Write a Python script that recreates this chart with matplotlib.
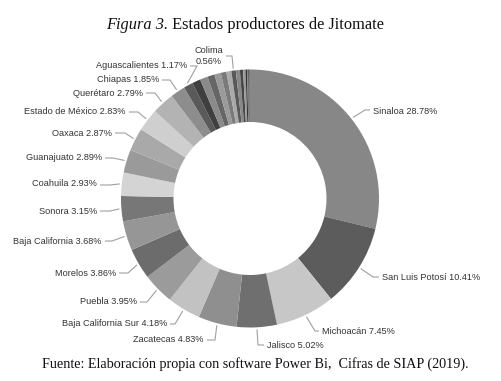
import matplotlib
matplotlib.use('Agg')
import matplotlib.pyplot as plt
import numpy as np

# ---------------- data ----------------
states = ['Sinaloa', 'San Luis Potosí', 'Michoacán', 'Jalisco', 'Zacatecas',
          'Baja California Sur', 'Puebla', 'Morelos', 'Baja California', 'Sonora',
          'Coahuila', 'Guanajuato', 'Oaxaca', 'Estado de México', 'Querétaro',
          'Chiapas', 'Aguascalientes', 'Nayarit', 'Tamaulipas', 'Chihuahua',
          'Hidalgo', 'Veracruz', 'Guerrero', 'Colima', 'Durango', 'Nuevo León',
          'Tlaxcala', 'Yucatán', 'Quintana Roo', 'Campeche', 'Tabasco',
          'Ciudad de México']
shares = [28.78, 10.41, 7.45, 5.02, 4.83,
          4.18, 3.95, 3.86, 3.68, 3.15,
          2.93, 2.89, 2.87, 2.83, 2.79,
          1.85, 1.17, 1.05, 0.97, 0.90,
          0.80, 0.70, 0.62, 0.56, 0.50, 0.40,
          0.30, 0.20, 0.15, 0.10, 0.06,
          0.05]
colors = ['#878787', '#5c5c5c', '#c7c7c7', '#6f6f6f', '#8f8f8f',
          '#c2c2c2', '#9b9b9b', '#6c6c6c', '#969696', '#777777',
          '#d4d4d4', '#9a9a9a', '#a9a9a9', '#cfcfcf', '#b3b3b3',
          '#8d8d8d', '#5a5a5a', '#3f3f3f', '#8a8a8a', '#666666',
          '#9a9a9a', '#7a7a7a', '#aaaaaa', '#585858', '#888888', '#474747',
          '#999999', '#333333', '#777777', '#2a2a2a', '#666666',
          '#444444']

title_italic = 'Figura 3.'
title_rest = ' Estados productores de Jitomate'
footer = 'Fuente: Elaboración propia con software Power Bi,  Cifras de SIAP (2019).'

# ---------------- layout (reference pixel coords, y down) ----------------
# name: (text_x, text_y, ha, elbow_x, elbow_y)
label_layout = {
    'Sinaloa':             (373, 111, 'left', 365, 110),
    'San Luis Potosí':     (382, 277, 'left', 373, 277),
    'Michoacán':           (322, 331, 'left', 315, 331),
    'Jalisco':             (267, 345, 'left', 258, 345),
    'Zacatecas':           (204, 340, 'right', 215, 340),
    'Baja California Sur': (167, 324, 'right', 175, 324),
    'Puebla':              (137, 302, 'right', 147, 302),
    'Morelos':             (116, 273, 'right', 128, 273),
    'Baja California':     (102, 242, 'right', 112, 241),
    'Sonora':              (97, 211, 'right', 110, 211),
    'Coahuila':            (97, 184, 'right', 110, 185),
    'Guanajuato':          (102, 158, 'right', 113, 158),
    'Oaxaca':              (112, 133, 'right', 125, 133),
    'Estado de México':    (126, 112, 'right', 138, 112),
    'Querétaro':           (143, 93, 'right', 155, 93),
    'Chiapas':             (159, 80, 'right', 170, 80),
    'Aguascalientes':      (187, 66, 'right', 197, 66),
    'Colima':              (223, 56, 'right', 232, 56),
}

W, H = 501, 381
fig = plt.figure(figsize=(W / 100, H / 100), dpi=100)
ax = fig.add_axes([0, 0, 1, 1])

def Y(y):
    return H - y

cx, cy = 250.0, Y(198.5)
R = 129.0
ring = 52.5

wedges, _ = ax.pie(shares, colors=colors, startangle=90, counterclock=False,
                   radius=R, center=(cx, cy),
                   wedgeprops=dict(width=ring, linewidth=0, antialiased=True))
ax.set_xlim(0, W)
ax.set_ylim(0, H)
ax.set_aspect('auto')
ax.axis('off')

LFONT = ['Liberation Sans', 'DejaVu Sans']
LSIZE = 6.6
LCOL = '#333333'
LINE = '#a0a0a0'

for w, name, val in zip(wedges, states, shares):
    if name not in label_layout:
        continue
    tx, ty, ha, ex, ey = label_layout[name]
    ang = np.deg2rad((w.theta1 + w.theta2) / 2.0)
    sx = cx + (R + 2) * np.cos(ang)
    sy = cy + (R + 2) * np.sin(ang)
    gap = 3 if ha == 'left' else -3
    hx = tx - gap
    ax.plot([sx, ex, hx], [sy, Y(ey), Y(ey)], color=LINE, lw=0.8,
            solid_capstyle='butt')
    if name == 'Colima':
        txt = f'{name}\n{val:.2f}%'
        ax.text(tx, Y(ty), txt, ha='right', va='center', multialignment='center',
                fontsize=LSIZE, family=LFONT, color=LCOL, linespacing=1.2)
    else:
        txt = f'{name} {val:.2f}%'
        ax.text(tx, Y(ty), txt, ha=ha, va='center', fontsize=LSIZE,
                family=LFONT, color=LCOL)

# title with italic part
SFONT = ['Liberation Serif', 'DejaVu Serif']
renderer = fig.canvas.get_renderer()
t1 = ax.text(0, Y(29), title_italic, fontsize=11.8, family=SFONT, style='italic',
             ha='left', va='baseline', color='#111111')
t2 = ax.text(0, Y(29), title_rest, fontsize=11.8, family=SFONT,
             ha='left', va='baseline', color='#111111')
w1 = t1.get_window_extent(renderer).width
w2 = t2.get_window_extent(renderer).width
x0 = 245 - (w1 + w2) / 2
t1.set_x(x0)
t2.set_x(x0 + w1)

ax.text(255.5, Y(368), footer, fontsize=10.2, family=SFONT, ha='center',
        va='baseline', color='#111111')

fig.savefig('out.png', dpi=100, facecolor='white')
